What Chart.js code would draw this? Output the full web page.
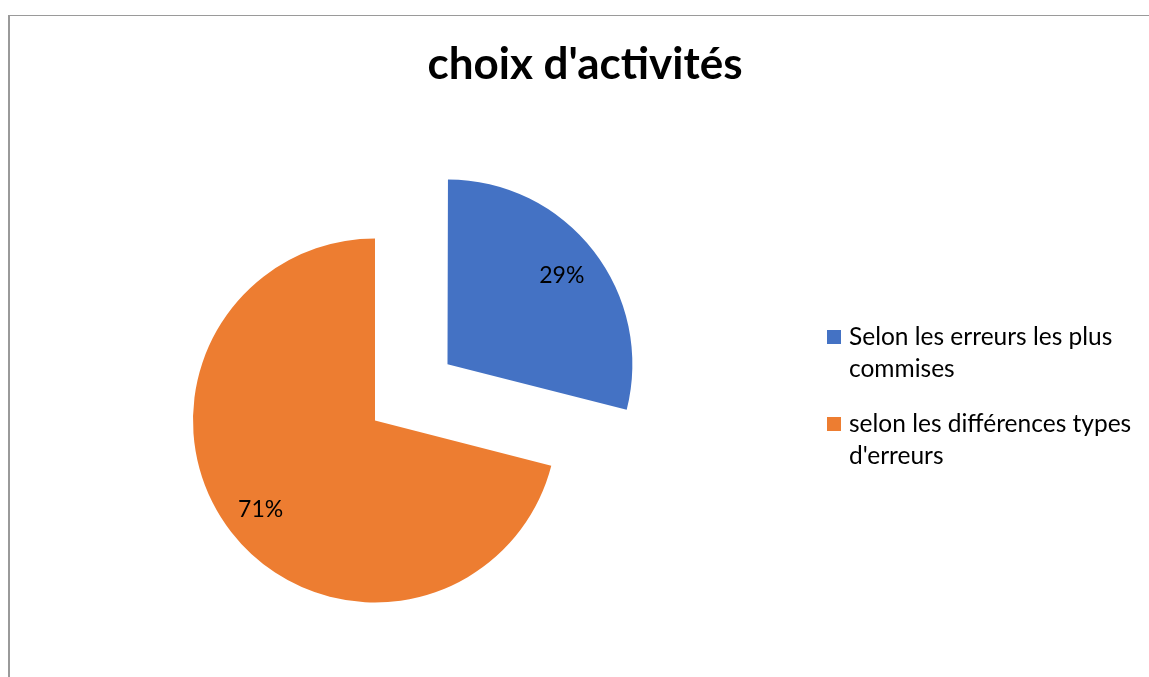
<!DOCTYPE html>
<html>
<head>
<meta charset="utf-8">
<script src="https://cdn.jsdelivr.net/npm/chart.js@4"></script>
<style>
  html, body { margin: 0; padding: 0; background: #fff; }
</style>
</head>
<body>
<canvas id="pieChart" width="1149" height="677"></canvas>
<script>
const chartTitle = "choix d'activités";
const categories = ['Selon les erreurs les plus commises', "selon les différences types d'erreurs"];
const legendLines = [['Selon les erreurs les plus', 'commises'], ['selon les différences types', "d'erreurs"]];
const shares = [29, 71];
const sliceColors = ['#4472C4', '#ED7D31'];

// background, frame, slice labels, title and the wrapped legend
const decor = {
    id: 'decor',
    beforeDraw(chart) {
        const ctx = chart.ctx;
        ctx.save();
        ctx.fillStyle = '#fff';
        ctx.fillRect(0, 0, chart.width, chart.height);
        ctx.fillStyle = '#9a9a9a';
        ctx.fillRect(8, 15, chart.width - 8, 1);
        ctx.fillRect(8, 15, 2, chart.height - 15);
        ctx.restore();
    },
    afterDatasetsDraw(chart) {
        const ctx = chart.ctx;
        const meta = chart.getDatasetMeta(0);
        ctx.save();
        ctx.font = '23px Lato';
        ctx.fillStyle = '#000';
        ctx.textAlign = 'center';
        ctx.textBaseline = 'middle';
        meta.data.forEach((arc, i) => {
            const { x, y, startAngle, endAngle, outerRadius } = arc.getProps(['x', 'y', 'startAngle', 'endAngle', 'outerRadius'], true);
            const mid = (startAngle + endAngle) / 2;
            const shift = (arc.options.offset || 0) / 4;
            const cx = x + Math.cos(mid) * shift;
            const cy = y + Math.sin(mid) * shift;
            const r = outerRadius * 0.795;
            ctx.fillText(shares[i] + '%', cx + Math.cos(mid) * r, cy + Math.sin(mid) * r);
        });
        ctx.restore();
    },
    afterDraw(chart) {
        const ctx = chart.ctx;
        ctx.save();
        ctx.fillStyle = '#000';
        ctx.textAlign = 'center';
        ctx.textBaseline = 'alphabetic';
        ctx.font = 'bold 44px Lato';
        ctx.fillText(chartTitle, 585, 79);

        // legend
        ctx.textAlign = 'left';
        ctx.font = '24.5px Lato';
        const itemTop = [337, 424];
        legendLines.forEach((lines, i) => {
            ctx.fillStyle = sliceColors[i];
            ctx.fillRect(827, itemTop[i] - 7, 14, 14);
            ctx.fillStyle = '#000';
            lines.forEach((line, j) => {
                ctx.fillText(line, 849, itemTop[i] + 8 + j * 32);
            });
        });
        ctx.restore();
    }
};

new Chart(document.getElementById('pieChart'), {
    type: 'pie',
    data: {
        labels: categories,
        datasets: [{
            data: shares,
            backgroundColor: sliceColors,
            borderWidth: 0,
            // only the blue slice is pulled out; the pie centre sits on the orange apex
            offset: [367, 0],
            hoverOffset: 0
        }]
    },
    options: {
        responsive: false,
        animation: false,
        devicePixelRatio: 1,
        events: [],
        radius: 182,
        layout: { padding: { left: 0, right: 399, top: 164, bottom: 0 } },
        plugins: {
            legend: { display: false },
            title: { display: false },
            tooltip: { enabled: false }
        }
    },
    plugins: [decor]
});
</script>
</body>
</html>
